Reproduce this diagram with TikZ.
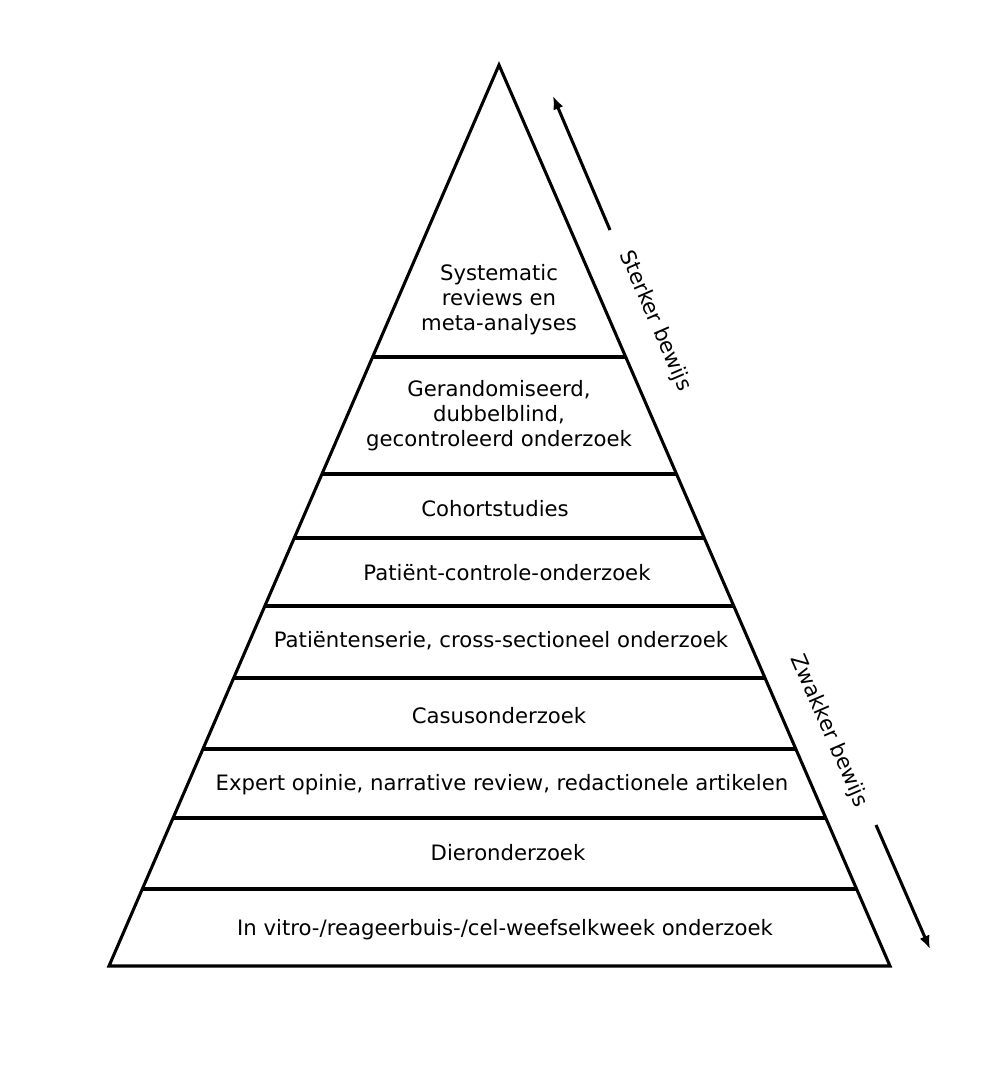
\documentclass[tikz,border=0pt]{standalone}
\usepackage{fontspec}
\setmainfont{DejaVu Sans}
\usetikzlibrary{arrows.meta}
\begin{document}
\begin{tikzpicture}[x=0.75pt,y=-0.75pt,
  edge/.style={line width=2.3pt, line join=miter},
  layer/.style={line width=2.3pt},
  lbl/.style={font=\fontsize{15.9}{18.75}\selectfont, align=center, inner sep=0pt},
  side/.style={font=\fontsize{15.9}{18.75}\selectfont, inner sep=0pt, rotate=-66.5},
  arr/.style={line width=2.3pt, -{Latex[length=10pt,width=8pt]}}]
\useasboundingbox (0,0) rectangle (1000,1067);
\coordinate (A) at (499,65);
\coordinate (L) at (109,966);
\coordinate (R) at (890,966);
\draw[edge] (A) -- (L) -- (R) -- cycle;
% layer lines
\foreach \yy [count=\i] in {357,474,538,606,678,749,818,889}{
  \pgfmathsetmacro{\xl}{499-(\yy-65)*0.4328}
  \pgfmathsetmacro{\xr}{499+(\yy-65)*0.4340}
  \coordinate (l\i) at (\xl,\yy);
  \coordinate (r\i) at (\xr,\yy);
  \draw[layer] (l\i) -- (r\i);
}
\node[lbl] (t1) at (499,300) {Systematic\\reviews en\\meta-analyses};
\node[lbl] (t2) at (499,416) {Gerandomiseerd,\\dubbelblind,\\gecontroleerd onderzoek};
\node[lbl] (t3) at (495,509) {Cohortstudies};
\node[lbl] (t4) at (507,573) {Patiënt-controle-onderzoek};
\node[lbl] (t5) at (501,641) {Patiëntenserie, cross-sectioneel onderzoek};
\node[lbl] (t6) at (499,716) {Casusonderzoek};
\node[lbl] (t7) at (502,785) {Expert opinie, narrative review, redactionele artikelen};
\node[lbl] (t8) at (508,853) {Dieronderzoek};
\node[lbl] (t9) at (505,930) {In vitro-/reageerbuis-/cel-weefselkweek onderzoek};
\node[side] (s1) at (655,321) {Sterker bewijs};
\node[side] (s2) at (829,731) {Zwakker bewijs};
\coordinate (a1s) at (610,230);
\coordinate (a1e) at (553,96);
\coordinate (a2s) at (876,825);
\coordinate (a2e) at (930,949);
\draw[arr] (a1s) -- (a1e);
\draw[arr] (a2s) -- (a2e);
\end{tikzpicture}
\end{document}
